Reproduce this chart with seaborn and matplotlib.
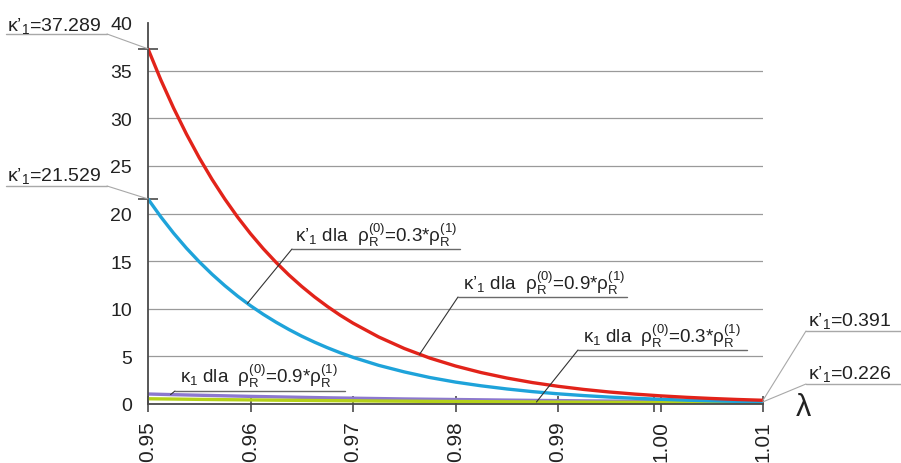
import numpy as np
import pandas as pd
import matplotlib
matplotlib.use("Agg")
import matplotlib.pyplot as plt
import seaborn as sns
from matplotlib.transforms import IdentityTransform
from matplotlib.lines import Line2D
from matplotlib.ticker import FixedLocator, FixedFormatter

# ---------------- data ----------------
# lambda grid for the steep kappa' curves (denser at the start)
lam_k1p = [0.95, 0.95125, 0.9525, 0.95375, 0.955, 0.95625, 0.9575, 0.95875,
           0.96, 0.96125, 0.9625, 0.96375, 0.965, 0.96625, 0.9675, 0.96875,
           0.97, 0.9725, 0.975, 0.9775, 0.98, 0.9825, 0.985, 0.9875,
           0.99, 0.9925, 0.995, 0.9975, 1.00, 1.0025, 1.005, 1.0075, 1.01]
# kappa'_1 for rho_R(0)=0.9*rho_R(1)  (red)
k1p_09 = [37.289, 34.03, 31.06, 28.34, 25.85, 23.58, 21.51, 19.61,
          17.88, 16.30, 14.86, 13.54, 12.34, 11.24, 10.24, 9.32,
          8.49, 7.04, 5.83, 4.82, 3.99, 3.30, 2.73, 2.25,
          1.86, 1.53, 1.26, 1.04, 0.855, 0.704, 0.578, 0.475, 0.391]
# kappa'_1 for rho_R(0)=0.3*rho_R(1)  (blue)
k1p_03 = [21.529, 19.65, 17.93, 16.36, 14.93, 13.62, 12.42, 11.32,
          10.32, 9.41, 8.58, 7.82, 7.12, 6.49, 5.91, 5.38,
          4.90, 4.06, 3.37, 2.78, 2.30, 1.91, 1.58, 1.30,
          1.07, 0.885, 0.728, 0.600, 0.494, 0.406, 0.334, 0.274, 0.226]

# lambda grid for the flat kappa curves
lam_k1 = [0.95, 0.9525, 0.955, 0.9575, 0.96, 0.9625, 0.965, 0.9675, 0.97, 0.9725,
          0.975, 0.9775, 0.98, 0.9825, 0.985, 0.9875, 0.99, 0.9925, 0.995, 0.9975,
          1.00, 1.0025, 1.005, 1.0075, 1.01]
# kappa_1 for rho_R(0)=0.9*rho_R(1)  (purple)
k1_09 = [1.05, 0.98, 0.92, 0.86, 0.80, 0.75, 0.70, 0.65, 0.61, 0.57,
         0.53, 0.50, 0.47, 0.44, 0.41, 0.38, 0.36, 0.33, 0.31, 0.29,
         0.27, 0.26, 0.24, 0.22, 0.21]
# kappa_1 for rho_R(0)=0.3*rho_R(1)  (yellow-green)
k1_03 = [0.55, 0.52, 0.485, 0.455, 0.43, 0.40, 0.38, 0.355, 0.335, 0.31,
         0.295, 0.275, 0.26, 0.245, 0.23, 0.215, 0.20, 0.19, 0.18, 0.17,
         0.16, 0.15, 0.14, 0.13, 0.12]

x_ticks = [0.95, 0.96, 0.97, 0.98, 0.99, 1.00, 1.01]
x_labels = ["0.95", "0.96", "0.97", "0.98", "0.99", "1.00", "1.01"]
y_ticks = [0, 5, 10, 15, 20, 25, 30, 35, 40]
y_labels = ["0", "5", "10", "15", "20", "25", "30", "35", "40"]

series_names = ["k1_09", "k1_03", "k1p_03", "k1p_09"]
colors = {"k1_09": "#8C78CF", "k1_03": "#B5D11A",
          "k1p_03": "#1EA3DA", "k1p_09": "#E2231A"}

df = pd.concat([
    pd.DataFrame({"lam": lam_k1, "val": k1_09, "series": "k1_09"}),
    pd.DataFrame({"lam": lam_k1, "val": k1_03, "series": "k1_03"}),
    pd.DataFrame({"lam": lam_k1p, "val": k1p_03, "series": "k1p_03"}),
    pd.DataFrame({"lam": lam_k1p, "val": k1p_09, "series": "k1p_09"}),
], ignore_index=True)

# ---------------- style ----------------
sns.set_theme(style="white")
plt.rcParams["font.family"] = ["Liberation Sans", "DejaVu Sans"]
plt.rcParams["mathtext.fontset"] = "custom"
plt.rcParams["mathtext.rm"] = "Liberation Sans"
plt.rcParams["mathtext.it"] = "Liberation Sans"
plt.rcParams["mathtext.default"] = "regular"

W, H = 901, 464
fig = plt.figure(figsize=(W / 100, H / 100), dpi=100)
fig.patch.set_facecolor("white")
ax = fig.add_axes([148 / W, 59 / H, 615 / W, 381 / H])

sns.lineplot(data=df, x="lam", y="val", hue="series", hue_order=series_names,
             palette=colors, estimator=None, sort=True, legend=False,
             linewidth=2.4, ax=ax)

ax.set_xlim(0.95, 1.01)
ax.set_ylim(0, 40)
ax.set_xlabel("")
ax.set_ylabel("")

axc = "#4a4a4a"
for s in ["top", "right"]:
    ax.spines[s].set_visible(False)
for s in ["left", "bottom"]:
    ax.spines[s].set_color(axc)
    ax.spines[s].set_linewidth(1.3)

ax.xaxis.set_major_locator(FixedLocator(x_ticks))
ax.xaxis.set_major_formatter(FixedFormatter(x_labels))
ax.yaxis.set_major_locator(FixedLocator(y_ticks))
ax.yaxis.set_major_formatter(FixedFormatter(y_labels))
ax.yaxis.set_minor_locator(FixedLocator([k1p_03[0], k1p_09[0]]))
ax.xaxis.set_minor_locator(FixedLocator([0.9994]))

ax.tick_params(axis="y", which="major", direction="inout", length=13, width=1.2,
               color=axc, labelsize=14, pad=5, labelcolor="#222222")
ax.tick_params(axis="y", which="minor", direction="inout", length=14, width=1.2,
               color=axc, left=True)
ax.tick_params(axis="x", which="major", direction="inout", length=11, width=1.2,
               color=axc, labelsize=15, pad=6, labelrotation=90,
               labelcolor="#222222", bottom=True)
ax.tick_params(axis="x", which="minor", direction="inout", length=11, width=1.2,
               color=axc, bottom=True)
for t in ax.get_xticklabels():
    t.set_va("top")

ax.grid(axis="y", color="#9a9a9a", linewidth=0.9)
ax.grid(axis="x", visible=False)
yt = ax.get_yticks()
for gl, v in zip(ax.get_ygridlines(), yt):
    if v in (0, 40):
        gl.set_visible(False)
ax.set_axisbelow(True)

# ---------------- annotations ----------------
pix = IdentityTransform()


def underline(x0, x1, y, color="#8a8a8a", lw=1.0):
    fig.add_artist(Line2D([x0, x1], [H - y, H - y], transform=pix,
                          color=color, lw=lw))


def leader(x, y, xd, yd, color="#8a8a8a", lw=0.8):
    ax.annotate("", xy=(xd, yd), xycoords="data", xytext=(x, H - y),
                textcoords="figure pixels", annotation_clip=False,
                arrowprops=dict(arrowstyle="-", color=color, lw=lw,
                                shrinkA=0, shrinkB=0))


def label(x, y, s, size=14):
    fig.text(x, H - y, s, transform=pix, fontsize=size, color="#222222",
             ha="left", va="baseline")


# left value labels
label(7, 31, r"κ’$_1$=37.289")
underline(6, 107, 35, color="#a8a8a8")
leader(107, 35, lam_k1p[0], k1p_09[0], color="#a8a8a8")

label(7, 181, r"κ’$_1$=21.529")
underline(6, 107, 187, color="#a8a8a8")
leader(107, 187, lam_k1p[0], k1p_03[0], color="#a8a8a8")

# right value labels
label(808, 326, r"κ’$_1$=0.391")
underline(806, 901, 332, color="#a8a8a8")
leader(806, 332, lam_k1p[-1], k1p_09[-1], color="#a8a8a8")

label(808, 379, r"κ’$_1$=0.226")
underline(806, 901, 385, color="#a8a8a8")
leader(806, 385, lam_k1p[-1], k1p_03[-1], color="#a8a8a8")

# curve labels
label(295, 242, r"κ’$_1$ dla  ρ$^{(0)}_{R}$=0.3*ρ$^{(1)}_{R}$", size=13.5)
underline(292, 460, 250, color="#6a6a6a")
leader(292, 250, 0.9597, np.interp(0.9597, lam_k1p, k1p_03), color="#333333")

label(463, 290, r"κ’$_1$ dla  ρ$^{(0)}_{R}$=0.9*ρ$^{(1)}_{R}$", size=13.5)
underline(458, 627, 298, color="#6a6a6a")
leader(458, 298, 0.9765, np.interp(0.9765, lam_k1p, k1p_09), color="#333333")

label(583, 343, r"κ$_1$ dla  ρ$^{(0)}_{R}$=0.3*ρ$^{(1)}_{R}$", size=13.5)
underline(578, 747, 351, color="#6a6a6a")
leader(578, 351, 0.9879, np.interp(0.9879, lam_k1, k1_03), color="#333333")

label(180, 383, r"κ$_1$ dla  ρ$^{(0)}_{R}$=0.9*ρ$^{(1)}_{R}$", size=13.5)
underline(175, 345, 392, color="#6a6a6a")
leader(175, 392, 0.9522, np.interp(0.9522, lam_k1, k1_09), color="#333333")

# axis symbol
fig.text(803, H - 408, "λ", transform=pix, fontsize=22, color="#222222",
         ha="center", va="center")

fig.savefig("out.png", dpi=100, facecolor="white")
